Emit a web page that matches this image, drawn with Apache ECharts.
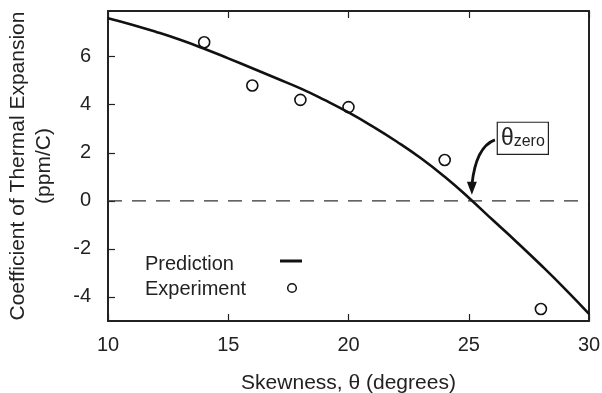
<!DOCTYPE html>
<html>
<head>
<meta charset="utf-8">
<script src="https://cdn.jsdelivr.net/npm/echarts@6/dist/echarts.min.js"></script>
<style>html,body{margin:0;padding:0;background:#fff;}#c{width:602px;height:393px;}</style>
</head>
<body>
<div id="c"></div>
<script>
// Prediction curve
const predX = [10,11,12,13,14,15,16,17,18,19,20,21,22,23,24,25,26,27,28,29,30];
const predY = [7.6,7.33,7.03,6.7,6.33,5.93,5.52,5.1,4.68,4.2,3.68,3.1,2.47,1.78,1.0,0.13,-0.8,-1.72,-2.67,-3.66,-4.7];
// Experiment points
const expX = [14,16,18,20,24,28];
const expY = [6.6,4.8,4.2,3.9,1.7,-4.5];
// Ticks
const xTicks = [10,15,20,25,30];
const yTicks = [-4,-2,0,2,4,6];
const zeroLineX = [10,30];
const thetaZero = 25.13;
const legendNames = ['Prediction','Experiment'];

const FONT = 'Liberation Sans';
const AX = '#222';
const chart = echarts.init(document.getElementById('c'), null, {renderer:'canvas'});

const option = {
  animation:false,
  backgroundColor:'#fff',
  textStyle:{fontFamily:FONT},
  grid:{left:108,right:13,top:11,bottom:72,containLabel:false,outerBoundsMode:'none'},
  xAxis:[{
    type:'value',min:10,max:30,interval:5,
    name:'Skewness, \u03b8 (degrees)',nameLocation:'middle',nameGap:52,
    nameTextStyle:{fontFamily:FONT,fontSize:21,color:'#222'},
    axisLine:{show:true,onZero:false,lineStyle:{color:AX,width:2}},
    axisTick:{show:true,inside:true,length:7,lineStyle:{color:AX,width:1.2}},
    axisLabel:{fontFamily:FONT,fontSize:20,color:'#222',margin:14},
    splitLine:{show:false}
  },{
    type:'value',min:10,max:30,interval:5,position:'top',
    axisLine:{show:true,onZero:false,lineStyle:{color:AX,width:2}},
    axisTick:{show:true,inside:true,length:7,lineStyle:{color:AX,width:1.2}},
    axisLabel:{show:false},splitLine:{show:false}
  }],
  yAxis:[{
    type:'value',min:-5,max:7.9,
    name:'Coefficient of Thermal Expansion\n(ppm/C)',nameLocation:'middle',nameGap:51,nameRotate:90,
    nameTextStyle:{fontFamily:FONT,fontSize:21,color:'#222',lineHeight:26,align:'center'},
    axisLine:{show:true,onZero:false,lineStyle:{color:AX,width:2}},
    axisTick:{show:true,inside:true,length:7,customValues:yTicks,lineStyle:{color:AX,width:1.2}},
    axisLabel:{fontFamily:FONT,fontSize:20,color:'#222',margin:17,customValues:yTicks},
    splitLine:{show:false}
  },{
    type:'value',min:-5,max:7.9,position:'right',
    axisLine:{show:true,onZero:false,lineStyle:{color:AX,width:2}},
    axisTick:{show:false},axisLabel:{show:false},splitLine:{show:false}
  }],
  series:[{
    name:'zero',type:'line',silent:true,symbol:'none',
    data:zeroLineX.map(x=>[x,0]),
    lineStyle:{color:'#333',width:1.3,type:[14,10]}
  },{
    name:'Prediction',type:'line',symbol:'none',smooth:0.5,
    data:predX.map((x,i)=>[x,predY[i]]),
    lineStyle:{color:'#111',width:2.6}
  },{
    name:'Experiment',type:'scatter',symbol:'circle',symbolSize:11,
    data:expX.map((x,i)=>[x,expY[i]]),
    itemStyle:{color:'#fff',borderColor:'#111',borderWidth:1.6,opacity:1}
  }]
};
chart.setOption(option);

// annotation θzero with curved arrow, anchored at the zero crossing
const p = chart.convertToPixel({xAxisIndex:0,yAxisIndex:0},[thetaZero,0]);
const tipX = p[0], tipY = p[1]-6;
chart.setOption({graphic:[
  {type:'bezierCurve',shape:{x1:tipX+23,y1:tipY-55,cpx1:tipX+4,cpy1:tipY-48,x2:tipX,y2:tipY-10},
   style:{stroke:'#111',lineWidth:2.8,fill:null}},
  {type:'polygon',shape:{points:[[tipX-5,tipY-13],[tipX+5,tipY-13],[tipX,tipY]]},style:{fill:'#111'}},
  {type:'text',x:tipX+26,y:tipY-72,
   style:{text:'{a|\u03b8}{b|zero}',fontFamily:FONT,padding:[4,3,4,3],
     borderColor:'#222',borderWidth:1.2,backgroundColor:'#fff',
     rich:{a:{fontFamily:FONT,fontSize:23,fill:'#222',verticalAlign:'bottom'},
           b:{fontFamily:FONT,fontSize:16,fill:'#222',verticalAlign:'bottom'}}}},
  // legend
  {type:'text',x:145,y:264,style:{text:legendNames[0],fontFamily:FONT,fontSize:20,fill:'#222',verticalAlign:'middle'}},
  {type:'text',x:145,y:289,style:{text:legendNames[1],fontFamily:FONT,fontSize:20,fill:'#222',verticalAlign:'middle'}},
  {type:'line',shape:{x1:280,y1:261,x2:302,y2:261},style:{stroke:'#111',lineWidth:3}},
  {type:'circle',shape:{cx:292,cy:288,r:4.3},style:{fill:'#fff',stroke:'#111',lineWidth:1.5}}
]});
</script>
</body>
</html>
